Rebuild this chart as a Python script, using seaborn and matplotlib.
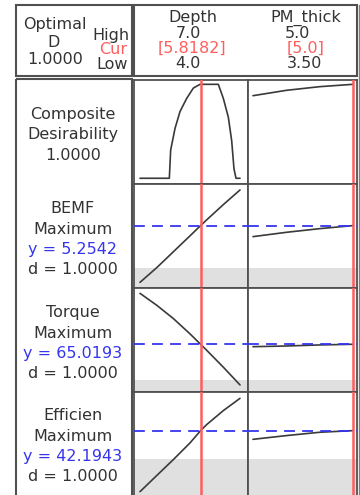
import matplotlib
matplotlib.use("Agg")
import matplotlib.pyplot as plt
from matplotlib.patches import Rectangle
import seaborn as sns

sns.set_style("white")
plt.rcParams['font.family'] = ['DejaVu Sans']

# factors (header)
factors = ["Depth", "PM_thick"]
f_high = ["7.0", "5.0"]
f_low = ["4.0", "3.50"]
f_cur = [5.8182, 5.0]
f_cur_txt = ["[5.8182]", "[5.0]"]

# x grids
depth = [4.0, 4.5, 5.0, 5.5, 5.8182, 6.0, 6.5, 7.0]
pm_thick = [3.5, 4.0, 4.5, 5.0]
comp_depth = [4.0, 4.4, 4.88, 4.92, 5.05, 5.2, 5.4, 5.6, 5.8, 6.35, 6.5, 6.65, 6.75, 6.82, 6.88, 7.0]

# composite desirability
comp_d_depth = [0.0, 0.0, 0.0, 0.30, 0.53, 0.71, 0.85, 0.96, 1.0, 1.0, 0.85, 0.65, 0.40, 0.10, 0.0, 0.0]
comp_d_pm = [0.879, 0.936, 0.975, 1.0]

# responses
resp_names = ["BEMF", "Torque", "Efficien"]
resp_goal = ["Maximum", "Maximum", "Maximum"]
resp_y = [5.2542, 65.0193, 42.1943]
resp_d = [1.0, 1.0, 1.0]
resp_lower = [4.61, 62.34, 37.94]
bemf_depth = [4.40, 4.62, 4.86, 5.10, 5.2542, 5.34, 5.57, 5.79]
bemf_pm = [5.088, 5.153, 5.208, 5.2542]
torque_depth = [68.84, 67.95, 66.95, 65.80, 65.0193, 64.57, 63.30, 61.97]
torque_pm = [64.84, 64.89, 64.97, 65.0193]
eff_depth = [33.04, 35.45, 37.85, 40.35, 42.1943, 43.10, 45.20, 47.04]
eff_pm = [40.89, 41.45, 41.95, 42.1943]

W, H = 360, 495
fig = plt.figure(figsize=(W / 100, H / 100), dpi=100)
fig.patch.set_facecolor("white")

txt = "#333333"
red = "#ff5e5e"
blue = "#3535ee"
grid = "#505050"

# background layer in pixel units for frames and text
bg = fig.add_axes([0, 0, 1, 1], zorder=0)
bg.set_xlim(0, W)
bg.set_ylim(H, 0)
bg.axis("off")
for (x0, y0, x1, y1) in [(16, 5, 132, 76), (134, 5, 357, 76), (16, 79, 132, 520)]:
    bg.add_patch(Rectangle((x0, y0), x1 - x0, y1 - y0, fill=False, ec=grid, lw=1.5))
bg.plot([359, 359], [5, 495], color="#808080", lw=1.0)

fs = 11.5
bg.text(55, 29, "Optimal", ha="center", va="baseline", fontsize=fs, color=txt)
bg.text(54, 47, "D", ha="center", va="baseline", fontsize=fs, color=txt)
bg.text(55, 64, "1.0000", ha="center", va="baseline", fontsize=fs, color=txt)
bg.text(129, 40, "High", ha="right", va="baseline", fontsize=fs, color=txt)
bg.text(127, 54, "Cur", ha="right", va="baseline", fontsize=fs, color=red)
bg.text(128, 69, "Low", ha="right", va="baseline", fontsize=fs, color=txt)

head_x = [(193, 188, 192, 188), (306, 297, 306, 305)]
for i, name in enumerate(factors):
    hx = head_x[i]
    bg.text(hx[0], 22, name, ha="center", va="baseline", fontsize=fs, color=txt)
    bg.text(hx[1], 38, f_high[i], ha="center", va="baseline", fontsize=fs, color=txt)
    bg.text(hx[2], 53, f_cur_txt[i], ha="center", va="baseline", fontsize=fs, color=red)
    bg.text(hx[3], 68, f_low[i], ha="center", va="baseline", fontsize=fs, color=txt)

# left label column
lx = 73
bg.text(lx, 119, "Composite", ha="center", va="baseline", fontsize=fs, color=txt)
bg.text(lx, 139, "Desirability", ha="center", va="baseline", fontsize=fs, color=txt)
bg.text(lx, 160, "1.0000", ha="center", va="baseline", fontsize=fs, color=txt)
base_y = [213, 317, 420]
for i, name in enumerate(resp_names):
    b = base_y[i]
    bg.text(lx, b, name, ha="center", va="baseline", fontsize=fs, color=txt)
    bg.text(lx, b + 21, resp_goal[i], ha="center", va="baseline", fontsize=fs, color=txt)
    bg.text(lx, b + 41, f"y = {resp_y[i]:.4f}", ha="center", va="baseline", fontsize=fs, color=blue)
    bg.text(lx, b + 61, f"d = {resp_d[i]:.4f}", ha="center", va="baseline", fontsize=fs, color=txt)

# plot cells
col_x = [(134, 248), (248, 357)]
row_y = [(80, 184), (184, 288), (288, 392), (392, 496)]
xlims = [(3.82, 7.24), (3.425, 5.06)]
ylims = [(-0.061, 1.046), (4.315, 5.88), (61.44, 69.24), (32.39, 47.99)]

curves = [
    [(comp_depth, comp_d_depth), (pm_thick, comp_d_pm)],
    [(depth, bemf_depth), (pm_thick, bemf_pm)],
    [(depth, torque_depth), (pm_thick, torque_pm)],
    [(depth, eff_depth), (pm_thick, eff_pm)],
]

for r, (y0, y1) in enumerate(row_y):
    for c, (x0, x1) in enumerate(col_x):
        ax = fig.add_axes([x0 / W, 1 - y1 / H, (x1 - x0) / W, (y1 - y0) / H], zorder=1)
        ax.set_facecolor("white")
        xs, ys = curves[r][c]
        if r > 0:
            ax.axhspan(ylims[r][0], resp_lower[r - 1], color="#e0e0e0", lw=0, zorder=0)
        sns.lineplot(x=xs, y=ys, ax=ax, color="#3a3a3a", linewidth=1.2, zorder=2)
        if r > 0:
            ax.axhline(resp_y[r - 1], color=blue, lw=1.3, dashes=[6, 4], zorder=3)
        ax.axvline(f_cur[c], color=red, lw=1.8, zorder=4)
        ax.set_xlim(*xlims[c])
        ax.set_ylim(*ylims[r])
        ax.set_xticks([])
        ax.set_yticks([])
        ax.set_xlabel("")
        ax.set_ylabel("")
        for s in ax.spines.values():
            s.set_visible(True)
            s.set_color(grid)
            s.set_linewidth(1.3)

fig.savefig("out.png", dpi=100)
